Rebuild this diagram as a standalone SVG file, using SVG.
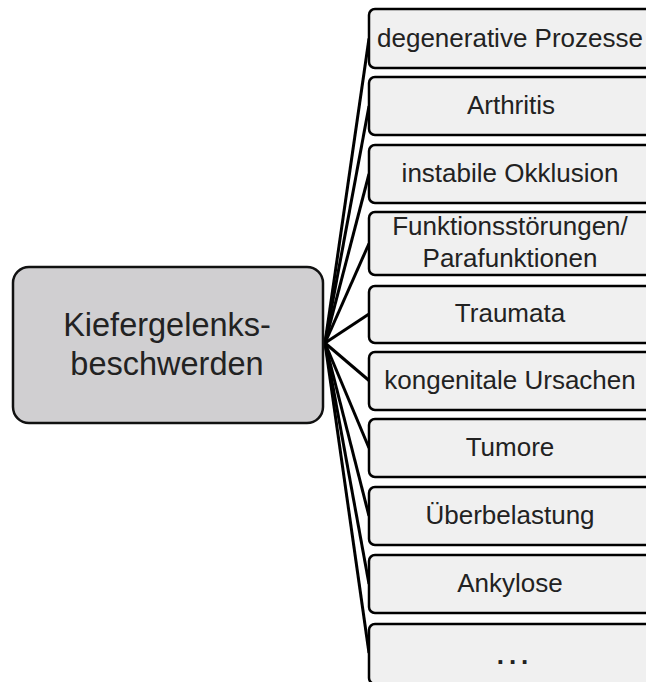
<svg xmlns="http://www.w3.org/2000/svg" width="646" height="682" viewBox="0 0 646 682">
<style>
.box{fill:#f0f0f0;stroke:#000;stroke-width:2.5}
.main{fill:#d0cfd1;stroke:#111;stroke-width:2.5}
.t{font-family:"Liberation Sans",Arial,sans-serif;font-size:26px;fill:#222;text-anchor:middle}
.tm{font-family:"Liberation Sans",Arial,sans-serif;font-size:32.5px;fill:#222;text-anchor:middle}
.c{fill:none;stroke:#000;stroke-width:3}
</style>
<rect width="646" height="682" fill="#fff"/>
<g id="connectors">
<path class="c" d="M325 343 L369 38.5"/>
<path class="c" d="M325 343 L369 106"/>
<path class="c" d="M325 343 L369 174"/>
<path class="c" d="M325 343 L369 243.5"/>
<path class="c" d="M325 343 L369 314"/>
<path class="c" d="M325 343 L369 380.5"/>
<path class="c" d="M325 343 L369 448"/>
<path class="c" d="M325 343 L369 516"/>
<path class="c" d="M325 343 L369 584"/>
<path class="c" d="M325 343 L369 653"/>
</g>
<g id="main">
<rect class="main" x="13" y="267" width="310" height="156" rx="16"/>
<text class="tm" x="167" y="336">Kiefergelenks-</text>
<text class="tm" x="167" y="375">beschwerden</text>
</g>
<g id="n1"><rect class="box" x="369" y="9" width="290" height="59" rx="6"/><text class="t" x="510" y="47">degenerative Prozesse</text></g>
<g id="n2"><rect class="box" x="369" y="77" width="290" height="58" rx="6"/><text class="t" x="511" y="114">Arthritis</text></g>
<g id="n3"><rect class="box" x="369" y="145" width="290" height="58" rx="6"/><text class="t" x="510" y="182">instabile Okklusion</text></g>
<g id="n4"><rect class="box" x="369" y="212" width="290" height="63" rx="6"/><text class="t" x="510" y="235">Funktionsstörungen/</text><text class="t" x="510" y="267">Parafunktionen</text></g>
<g id="n5"><rect class="box" x="369" y="286" width="290" height="57" rx="6"/><text class="t" x="510" y="322">Traumata</text></g>
<g id="n6"><rect class="box" x="369" y="352" width="290" height="58" rx="6"/><text class="t" x="510" y="389">kongenitale Ursachen</text></g>
<g id="n7"><rect class="box" x="369" y="419" width="290" height="58" rx="6"/><text class="t" x="510" y="456">Tumore</text></g>
<g id="n8"><rect class="box" x="369" y="487" width="290" height="58" rx="6"/><text class="t" x="510" y="524">Überbelastung</text></g>
<g id="n9"><rect class="box" x="369" y="555" width="290" height="58" rx="6"/><text class="t" x="510" y="592">Ankylose</text></g>
<g id="n10"><rect class="box" x="369" y="624" width="290" height="60" rx="6"/><text class="t" x="515" y="664" font-weight="bold" letter-spacing="5">...</text></g>
</svg>
